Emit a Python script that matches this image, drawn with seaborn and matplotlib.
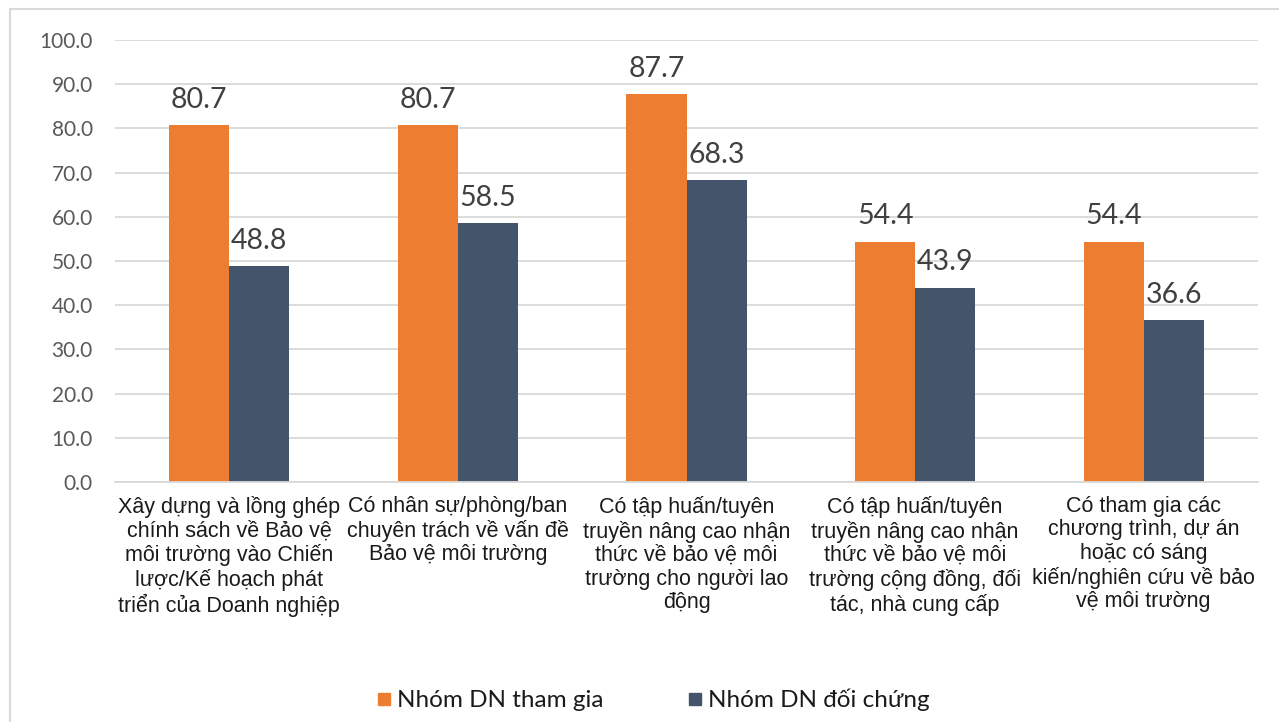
import matplotlib
matplotlib.use("Agg")
import matplotlib.pyplot as plt
import matplotlib.patches as mpatches
from matplotlib.lines import Line2D
import seaborn as sns
import pandas as pd

categories = [
    "Xây dựng và lồng ghép\nchính sách về Bảo vệ\nmôi trường vào Chiến\nlược/Kế hoạch phát\ntriển của Doanh nghiệp",
    "Có nhân sự/phòng/ban\nchuyên trách về vấn đề\nBảo vệ môi trường",
    "Có tập huấn/tuyên\ntruyền nâng cao nhận\nthức về bảo vệ môi\ntrường cho người lao\nđộng",
    "Có tập huấn/tuyên\ntruyền nâng cao nhận\nthức về bảo vệ môi\ntrường cộng đồng, đối\ntác, nhà cung cấp",
    "Có tham gia các\nchương trình, dự án\nhoặc có sáng\nkiến/nghiên cứu về bảo\nvệ môi trường",
]
series_names = ["Nhóm DN tham gia", "Nhóm DN đối chứng"]
participating = [80.7, 80.7, 87.7, 54.4, 54.4]
control = [48.8, 58.5, 68.3, 43.9, 36.6]
yticks = [0, 10, 20, 30, 40, 50, 60, 70, 80, 90, 100]

colors = ["#ED7D31", "#44546A"]

df = pd.DataFrame({
    "category": categories * 2,
    "series": [series_names[0]] * 5 + [series_names[1]] * 5,
    "value": participating + control,
})

sns.set_theme(style="white")
plt.rcParams['font.family'] = ['Liberation Sans', 'DejaVu Sans']

fig = plt.figure(figsize=(12.79, 7.22), dpi=100)
ax = fig.add_axes([0.0899, 0.3324, 0.8937, 0.6122])

sns.barplot(data=df, x="category", y="value", hue="series",
            palette=colors, width=0.525, saturation=1, ax=ax,
            legend=False, errorbar=None, linewidth=0)

for cont in ax.containers:
    ax.bar_label(cont, fmt="%.1f", padding=9, fontsize=20.5, color="#404040",
                 family=["Lato", "DejaVu Sans"])

ax.set_ylim(0, 100)
ax.set_yticks(yticks)
ax.set_yticklabels([f"{v:.1f}" for v in yticks], fontsize=15, color="#595959",
                   family=["Lato", "DejaVu Sans"])
ax.set_xlim(-0.5, 4.5)
ax.tick_params(axis="x", length=0, pad=10, labelsize=15.5, labelcolor="#1a1a1a")
ax.tick_params(axis="y", length=0, pad=16)
for lab in ax.get_xticklabels():
    lab.set_linespacing(1.16)
ax.set_xlabel("")
ax.set_ylabel("")
ax.grid(axis="y", color="#D9D9D9", linewidth=1.3)
ax.set_axisbelow(True)
for s in ["top", "right", "left"]:
    ax.spines[s].set_visible(False)
ax.spines["bottom"].set_color("#D9D9D9")
ax.spines["bottom"].set_linewidth(1.3)

handles = [Line2D([0], [0], marker="s", linestyle="none", markersize=9,
                  markerfacecolor=c, markeredgecolor=c) for c in colors]
fig.legend(handles, series_names, loc="center", bbox_to_anchor=(654 / 1279, 1 - 700 / 722),
           ncol=2, frameon=False, handletextpad=0.3, handlelength=0.5,
           columnspacing=3.5, prop={"family": ["Lato", "DejaVu Sans"], "size": 17.5},
           labelcolor="#1a1a1a")

border = mpatches.Rectangle((10 / 1279, -0.1), 1.2, 1.1 - 9 / 722,
                            transform=fig.transFigure, fill=False,
                            edgecolor="#D9D9D9", linewidth=1.5)
fig.patches.append(border)

fig.savefig("out.png", dpi=100)
